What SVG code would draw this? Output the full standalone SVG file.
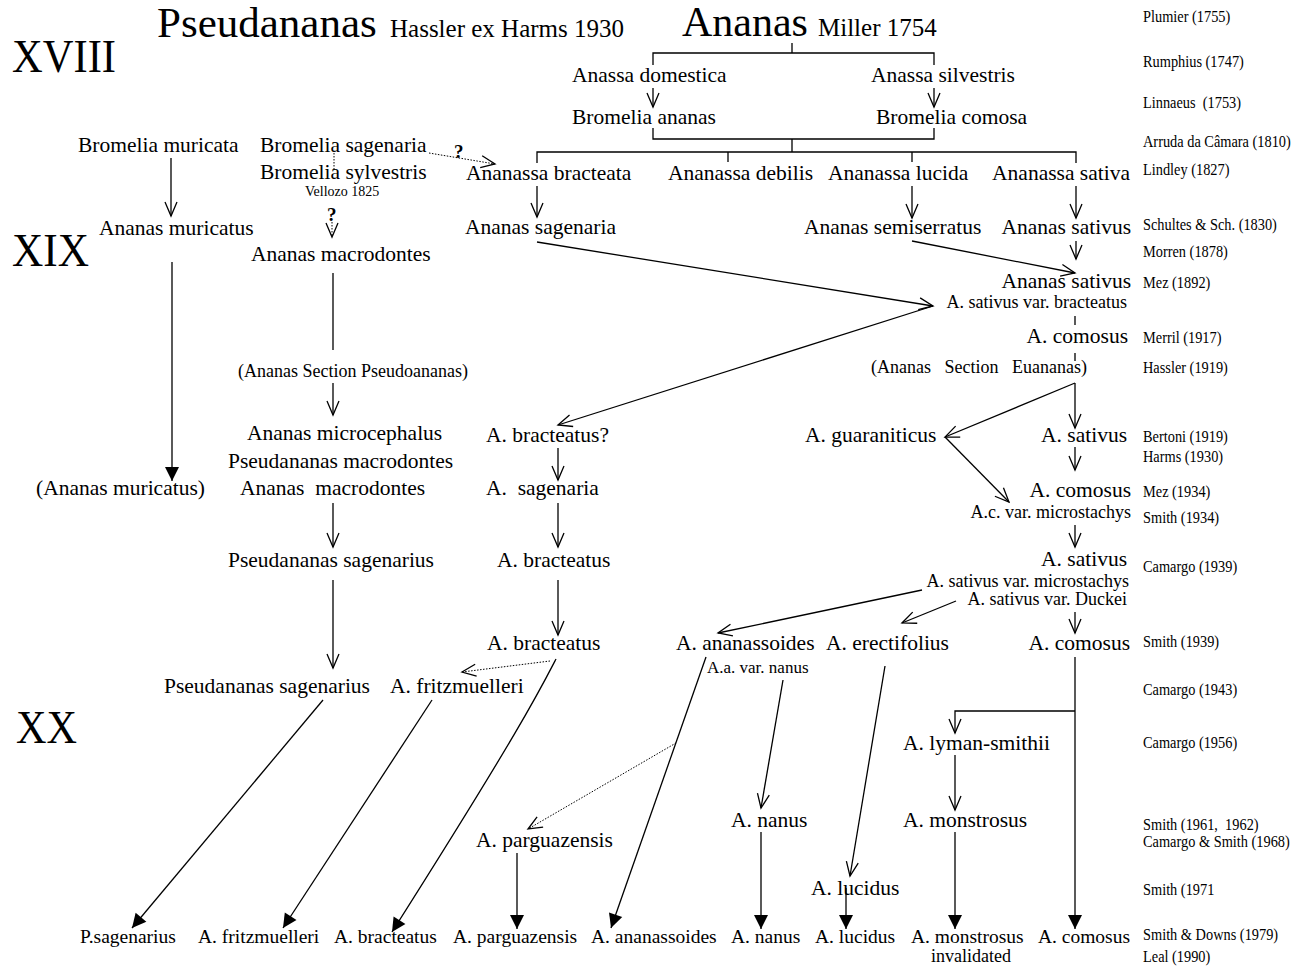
<svg xmlns="http://www.w3.org/2000/svg" width="1298" height="971" viewBox="0 0 1298 971">
<style>
text{font-family:"Liberation Serif","Times New Roman",serif;fill:#000}
.t{font-size:21.5px}
.b{font-size:19.5px}
.s{font-size:18px}
.r{font-size:17.5px}
.e{text-anchor:end}
.q{font-size:19px;font-weight:bold}
.ln{fill:none;stroke:#000;stroke-width:1.3}
.dt{fill:none;stroke:#000;stroke-width:1;stroke-dasharray:1.5 1.5}
.oa{marker-end:url(#open)}
.fa{marker-end:url(#fill)}
</style>
<defs>
<marker id="open" viewBox="-15 -8 17 16" refX="0" refY="0" markerWidth="17" markerHeight="16" orient="auto" markerUnits="userSpaceOnUse"><path d="M-14,-6 L0,0 L-14,6" fill="none" stroke="#000" stroke-width="1.3"/></marker>
<marker id="fill" viewBox="-15 -8 17 16" refX="0" refY="0" markerWidth="17" markerHeight="16" orient="auto" markerUnits="userSpaceOnUse"><path d="M-14,-7 L0,0 L-14,7 Z" fill="#000"/></marker>
</defs>
<rect width="1298" height="971" fill="#fff"/>

<g id="titles">
<text x="157" y="37" style="font-size:43px">Pseudananas</text>
<text x="390" y="37" style="font-size:25px">Hassler ex Harms 1930</text>
<text x="682" y="36" style="font-size:42px">Ananas</text>
<text x="818" y="36" style="font-size:25px">Miller 1754</text>
</g>
<g id="eras">
<text x="12" y="72" style="font-size:46px" textLength="104" lengthAdjust="spacingAndGlyphs">XVIII</text>
<text x="12" y="266" style="font-size:46px" textLength="77" lengthAdjust="spacingAndGlyphs">XIX</text>
<text x="16" y="743" style="font-size:46px" textLength="61" lengthAdjust="spacingAndGlyphs">XX</text>
</g>

<g id="authors" transform="translate(1143,0) scale(0.82,1)">
<text class="r" x="0" y="22">Plumier (1755)</text>
<text class="r" x="0" y="67">Rumphius (1747)</text>
<text class="r" x="0" y="108" xml:space="preserve">Linnaeus  (1753)</text>
<text class="r" x="0" y="147">Arruda da Câmara (1810)</text>
<text class="r" x="0" y="175">Lindley (1827)</text>
<text class="r" x="0" y="230">Schultes &amp; Sch. (1830)</text>
<text class="r" x="0" y="257">Morren (1878)</text>
<text class="r" x="0" y="288">Mez (1892)</text>
<text class="r" x="0" y="343">Merril (1917)</text>
<text class="r" x="0" y="373">Hassler (1919)</text>
<text class="r" x="0" y="442">Bertoni (1919)</text>
<text class="r" x="0" y="462">Harms (1930)</text>
<text class="r" x="0" y="497">Mez (1934)</text>
<text class="r" x="0" y="523">Smith (1934)</text>
<text class="r" x="0" y="572">Camargo (1939)</text>
<text class="r" x="0" y="647">Smith (1939)</text>
<text class="r" x="0" y="695">Camargo (1943)</text>
<text class="r" x="0" y="748">Camargo (1956)</text>
<text class="r" x="0" y="830" xml:space="preserve">Smith (1961,  1962)</text>
<text class="r" x="0" y="847">Camargo &amp; Smith (1968)</text>
<text class="r" x="0" y="895">Smith (1971</text>
<text class="r" x="0" y="940">Smith &amp; Downs (1979)</text>
<text class="r" x="0" y="962">Leal (1990)</text>
</g>

<g id="n-anassa-domestica"><text class="t" x="572" y="82">Anassa domestica</text></g>
<g id="n-anassa-silvestris"><text class="t" x="871" y="82">Anassa silvestris</text></g>
<g id="n-bromelia-ananas"><text class="t" x="572" y="124">Bromelia ananas</text></g>
<g id="n-bromelia-comosa"><text class="t" x="876" y="124">Bromelia comosa</text></g>
<g id="n-bromelia-muricata"><text class="t" x="78" y="152">Bromelia muricata</text></g>
<g id="n-bromelia-sagenaria"><text class="t" x="260" y="152">Bromelia sagenaria</text></g>
<g id="n-bromelia-sylvestris"><text class="t" x="260" y="179">Bromelia sylvestris</text><text x="305" y="196" style="font-size:14px">Vellozo 1825</text></g>
<g id="n-ananassa-bracteata"><text class="t" x="466" y="180">Ananassa bracteata</text></g>
<g id="n-ananassa-debilis"><text class="t" x="668" y="180">Ananassa debilis</text></g>
<g id="n-ananassa-lucida"><text class="t" x="828" y="180">Ananassa lucida</text></g>
<g id="n-ananassa-sativa"><text class="t e" x="1130" y="180">Ananassa sativa</text></g>
<g id="n-ananas-muricatus"><text class="t" x="99" y="235">Ananas muricatus</text></g>
<g id="n-ananas-sagenaria"><text class="t" x="465" y="234">Ananas sagenaria</text></g>
<g id="n-ananas-semiserratus"><text class="t" x="804" y="234">Ananas semiserratus</text></g>
<g id="n-ananas-sativus-1830"><text class="t e" x="1131" y="234">Ananas sativus</text></g>
<g id="n-ananas-macrodontes"><text class="t" x="251" y="261">Ananas macrodontes</text></g>
<g id="n-ananas-sativus-1892"><text class="t e" x="1131" y="288">Ananas sativus</text><text class="s e" x="1127" y="308">A. sativus var. bracteatus</text></g>
<g id="n-a-comosus-1917"><text class="t e" x="1128" y="343">A. comosus</text></g>
<g id="n-section-pseudoananas"><text class="s" x="238" y="377">(Ananas Section Pseudoananas)</text></g>
<g id="n-section-euananas"><text class="s" x="871" y="373" xml:space="preserve">(Ananas   Section   Euananas)</text></g>
<g id="n-ananas-microcephalus"><text class="t" x="247" y="440">Ananas microcephalus</text><text class="t" x="228" y="468">Pseudananas macrodontes</text><text class="t" x="240" y="495" xml:space="preserve">Ananas  macrodontes</text></g>
<g id="n-a-bracteatus-q"><text class="t" x="486" y="442">A. bracteatus?</text></g>
<g id="n-a-guaraniticus"><text class="t" x="805" y="442">A. guaraniticus</text></g>
<g id="n-a-sativus-1919"><text class="t e" x="1127" y="442">A. sativus</text></g>
<g id="n-ananas-muricatus-paren"><text class="t" x="36" y="495">(Ananas muricatus)</text></g>
<g id="n-a-sagenaria"><text class="t" x="486" y="495" xml:space="preserve">A.  sagenaria</text></g>
<g id="n-a-comosus-1934"><text class="t e" x="1131" y="497">A. comosus</text><text class="s e" x="1131" y="518">A.c. var. microstachys</text></g>
<g id="n-pseudananas-sagenarius-1939"><text class="t" x="228" y="567">Pseudananas sagenarius</text></g>
<g id="n-a-bracteatus-1939"><text class="t" x="497" y="567">A. bracteatus</text></g>
<g id="n-a-sativus-1939"><text class="t e" x="1127" y="566">A. sativus</text><text class="s e" x="1129" y="587">A. sativus var. microstachys</text><text class="s e" x="1127" y="605">A. sativus var. Duckei</text></g>
<g id="n-a-bracteatus-smith"><text class="t" x="487" y="650">A. bracteatus</text></g>
<g id="n-a-ananassoides"><text class="t" x="676" y="650">A. ananassoides</text><text x="707" y="673" style="font-size:17px">A.a. var. nanus</text></g>
<g id="n-a-erectifolius"><text class="t" x="826" y="650">A. erectifolius</text></g>
<g id="n-a-comosus-1939"><text class="t e" x="1130" y="650">A. comosus</text></g>
<g id="n-pseudananas-sagenarius-1943"><text class="t" x="164" y="693">Pseudananas sagenarius</text></g>
<g id="n-a-fritzmuelleri"><text class="t" x="390" y="693">A. fritzmuelleri</text></g>
<g id="n-a-lyman-smithii"><text class="t" x="903" y="750">A. lyman-smithii</text></g>
<g id="n-a-nanus"><text class="t" x="731" y="827">A. nanus</text></g>
<g id="n-a-monstrosus"><text class="t" x="903" y="827">A. monstrosus</text></g>
<g id="n-a-parguazensis"><text class="t" x="476" y="847">A. parguazensis</text></g>
<g id="n-a-lucidus"><text class="t" x="811" y="895">A. lucidus</text></g>
<g id="n-final-p-sagenarius"><text class="b" x="80" y="943">P.sagenarius</text></g>
<g id="n-final-fritzmuelleri"><text class="b" x="198" y="943">A. fritzmuelleri</text></g>
<g id="n-final-bracteatus"><text class="b" x="334" y="943">A. bracteatus</text></g>
<g id="n-final-parguazensis"><text class="b" x="453" y="943">A. parguazensis</text></g>
<g id="n-final-ananassoides"><text class="b" x="591" y="943">A. ananassoides</text></g>
<g id="n-final-nanus"><text class="b" x="731" y="943">A. nanus</text></g>
<g id="n-final-lucidus"><text class="b" x="815" y="943">A. lucidus</text></g>
<g id="n-final-monstrosus"><text class="b" x="911" y="943">A. monstrosus</text><text x="931" y="962" style="font-size:18px">invalidated</text></g>
<g id="n-final-comosus"><text class="b e" x="1130" y="943">A. comosus</text></g>

<g id="connectors">
<path class="ln" d="M792,43 V53 M653,65 V53 H934 V65"/>
<path class="ln oa" d="M653,88 V107"/>
<path class="ln oa" d="M934,88 V107"/>
<path class="ln" d="M653,128 V139 H934 V128 M792,139 V152 M537,163 V152 H1076 V163 M728,152 V162 M912,152 V162"/>
<path class="ln oa" d="M171,158 V216"/>
<path class="ln oa" d="M537,186 V217"/>
<path class="ln oa" d="M912,186 V218"/>
<path class="ln oa" d="M1076,186 V218"/>
<path class="ln oa" d="M1076,241 V259"/>
<path class="ln oa" d="M912,241 L1075,273"/>
<path class="ln oa" d="M537,242 L933,306"/>
<path class="ln oa" d="M933,306 L558,425"/>
<path class="ln fa" d="M172,262 V481"/>
<path class="ln" d="M333,273 V350"/>
<path class="ln oa" d="M333,383 V415"/>
<path class="ln" d="M1075,316 V325 M1075,353 V361"/>
<path class="ln oa" d="M1075,383 V428"/>
<path class="ln oa" d="M1075,383 L945,437"/>
<path class="ln oa" d="M945,437 L1009,502"/>
<path class="ln oa" d="M1075,447 V470"/>
<path class="ln oa" d="M558,448 V480"/>
<path class="ln oa" d="M333,503 V547"/>
<path class="ln oa" d="M558,503 V547"/>
<path class="ln oa" d="M1075,525 V547"/>
<path class="ln oa" d="M333,580 V668"/>
<path class="ln oa" d="M558,580 V635"/>
<path class="ln oa" d="M922,590 L718,633"/>
<path class="ln oa" d="M956,601 L902,623"/>
<path class="ln oa" d="M1075,612 V633"/>
<path class="dt oa" d="M550,661 L462,672"/>
<path class="ln fa" d="M556,659 C540,690 520,730 392,932"/>
<path class="ln fa" d="M323,700 L132,928"/>
<path class="ln fa" d="M432,700 L283,928"/>
<path class="ln fa" d="M706,657 L611,928"/>
<path class="dt oa" d="M676,743 L528,829"/>
<path class="ln fa" d="M517,853 V929"/>
<path class="ln oa" d="M783,680 L761,808"/>
<path class="ln oa" d="M885,666 L850,876"/>
<path class="ln fa" d="M1075,657 V929"/>
<path class="ln oa" d="M1075,711 H955 V733"/>
<path class="ln oa" d="M955,755 V810"/>
<path class="ln fa" d="M761,832 V929"/>
<path class="ln fa" d="M846,888 V929"/>
<path class="ln fa" d="M955,832 V929"/>
<path class="dt" d="M334,153 V170"/>
<path class="dt oa" d="M429,153 L495,164"/>
<path class="dt oa" d="M332,222 V237"/>
<text class="q" x="454" y="158">?</text>
<text class="q" x="327" y="221">?</text>
</g>
</svg>
